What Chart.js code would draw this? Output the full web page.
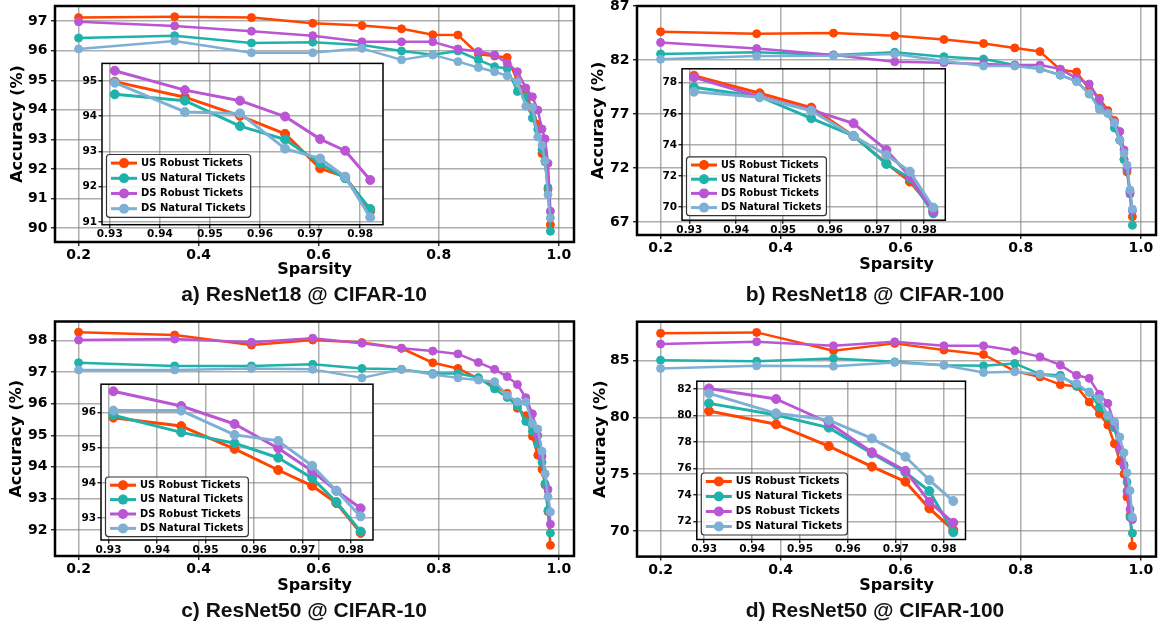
<!DOCTYPE html>
<html>
<head>
<meta charset="utf-8">
<script src="https://cdn.jsdelivr.net/npm/chart.js@4.4.0/dist/chart.umd.min.js"></script>
<style>
  html, body { margin: 0; padding: 0; background: #fff; width: 1158px; height: 627px; overflow: hidden; }
  #stage { position: relative; width: 1158px; height: 627px; }
  #stage canvas { position: absolute; left: 0; top: 0; }
</style>
</head>
<body>
<div id="stage"></div>
<script>
// Sparsity levels shared by every panel (main plot uses all, inset the 0.93-0.98 part)
const sparsity = [0.2, 0.36, 0.488, 0.59, 0.672, 0.738, 0.79, 0.832, 0.866, 0.893, 0.914,
                  0.931, 0.945, 0.956, 0.965, 0.972, 0.977, 0.982, 0.986];
const insetStart = 11, insetEnd = 18;

const seriesNames = ['US Robust Tickets', 'US Natural Tickets', 'DS Robust Tickets', 'DS Natural Tickets'];
const seriesColors = ['#FF4500', '#20B2AA', '#BA55D3', '#7EB0D5'];

// a) ResNet18 @ CIFAR-10
const r18c10UsRobust  = [97.12, 97.15, 97.12, 96.93, 96.85, 96.74, 96.54, 96.53, 95.88, 95.82, 95.77, 94.98, 94.54, 94.01, 93.50, 92.52, 92.28, 91.31, 90.11];
const r18c10UsNatural = [96.43, 96.51, 96.26, 96.29, 96.19, 95.99, 95.86, 95.99, 95.69, 95.46, 95.40, 94.62, 94.44, 93.72, 93.34, 92.66, 92.24, 91.37, 89.89];
const r18c10DsRobust  = [96.98, 96.84, 96.66, 96.51, 96.30, 96.30, 96.30, 96.06, 95.97, 95.86, 95.58, 95.29, 94.74, 94.44, 93.99, 93.35, 93.02, 92.19, 90.57];
const r18c10DsNatural = [96.06, 96.33, 95.93, 95.93, 96.08, 95.69, 95.86, 95.63, 95.43, 95.29, 95.15, 94.95, 94.12, 94.08, 93.08, 92.80, 92.28, 91.13, 90.34];

// b) ResNet18 @ CIFAR-100
const r18c100UsRobust  = [84.62, 84.43, 84.49, 84.24, 83.90, 83.53, 83.12, 82.78, 81.10, 80.90, 79.30, 78.45, 77.32, 76.40, 74.58, 72.82, 71.65, 69.83, 67.50];
const r18c100UsNatural = [82.56, 82.72, 82.47, 82.72, 82.31, 82.09, 81.53, 81.20, 80.60, 80.05, 78.85, 77.70, 77.10, 75.71, 74.58, 72.78, 71.86, 69.61, 66.70];
const r18c100DsRobust  = [83.62, 83.06, 82.47, 81.84, 81.75, 81.63, 81.53, 81.53, 81.16, 80.30, 79.78, 78.34, 77.10, 76.25, 75.39, 73.68, 71.97, 69.72, 68.05];
const r18c100DsNatural = [82.06, 82.37, 82.40, 82.56, 81.90, 81.44, 81.44, 81.16, 80.60, 80.00, 78.90, 77.42, 77.06, 76.20, 74.58, 73.36, 72.29, 69.98, 68.20];

// c) ResNet50 @ CIFAR-10
const r50c10UsRobust  = [98.27, 98.18, 97.86, 98.02, 97.94, 97.76, 97.30, 97.12, 96.80, 96.55, 96.33, 95.86, 95.62, 94.97, 94.37, 93.92, 93.43, 92.58, 91.51];
const r50c10UsNatural = [97.30, 97.20, 97.20, 97.25, 97.12, 97.09, 96.96, 96.96, 96.83, 96.47, 96.20, 95.93, 95.44, 95.13, 94.72, 94.14, 93.46, 92.62, 91.90];
const r50c10DsRobust  = [98.02, 98.05, 97.95, 98.08, 97.92, 97.76, 97.67, 97.58, 97.31, 97.09, 96.86, 96.61, 96.19, 95.68, 94.99, 94.34, 93.78, 93.28, 92.18];
const r50c10DsNatural = [97.07, 97.07, 97.12, 97.09, 96.82, 97.09, 96.93, 96.82, 96.75, 96.70, 96.27, 96.06, 96.06, 95.37, 95.20, 94.49, 93.78, 93.05, 92.57];

// d) ResNet50 @ CIFAR-100
const r50c100UsRobust  = [87.43, 87.51, 85.89, 86.54, 85.95, 85.56, 84.10, 83.58, 82.90, 82.75, 81.37, 80.34, 79.34, 77.70, 76.15, 75.02, 73.00, 71.37, 68.68];
const r50c100UsNatural = [85.06, 84.97, 85.21, 84.91, 84.62, 84.56, 84.77, 83.82, 83.73, 82.76, 82.25, 80.92, 80.04, 79.09, 77.15, 75.72, 74.31, 71.20, 69.80];
const r50c100DsRobust  = [86.48, 86.68, 86.33, 86.68, 86.33, 86.33, 85.89, 85.35, 84.62, 83.73, 83.46, 82.05, 81.25, 79.46, 77.23, 75.84, 73.51, 71.92, 71.00];
const r50c100DsNatural = [84.33, 84.56, 84.53, 84.86, 84.62, 83.97, 84.03, 83.82, 83.53, 83.00, 82.20, 81.67, 80.17, 79.66, 78.28, 76.90, 75.14, 73.56, 71.20];

// tick labels
const mainXTicks = [0.2, 0.4, 0.6, 0.8, 1.0];
const insetXTicks = [0.93, 0.94, 0.95, 0.96, 0.97, 0.98];
const r18c10YTicks = [90, 91, 92, 93, 94, 95, 96, 97];
const r18c10InsetYTicks = [91, 92, 93, 94, 95];
const r18c100YTicks = [67, 72, 77, 82, 87];
const r18c100InsetYTicks = [70, 72, 74, 76, 78];
const r50c10YTicks = [92, 93, 94, 95, 96, 97, 98];
const r50c10InsetYTicks = [93, 94, 95, 96];
const r50c100YTicks = [70, 75, 80, 85];
const r50c100InsetYTicks = [72, 74, 76, 78, 80, 82];

const W = 1200, H = 627;
const FONT = '"DejaVu Sans", "Liberation Sans", sans-serif';
const gridColor = 'rgba(120,120,120,0.6)';
Chart.defaults.color = '#000';

// layout of each panel: plot areas in page pixels
const panels = [
  { caption: 'a) ResNet18 @ CIFAR-10', series: [r18c10UsRobust, r18c10UsNatural, r18c10DsRobust, r18c10DsNatural],
    yTicks: r18c10YTicks, insetYTicks: r18c10InsetYTicks,
    main: { l: 55, t: 6, r: 574, b: 242, yTitleX: 17.5, xTitleY: 270, capX: 304, capY: 295 },
    inset: { l: 102, t: 63.4, r: 383, b: 224.7 }, legend: { size: 10, row: 15.2, pad: 7.4 } },
  { caption: 'b) ResNet18 @ CIFAR-100', series: [r18c100UsRobust, r18c100UsNatural, r18c100DsRobust, r18c100DsNatural],
    yTicks: r18c100YTicks, insetYTicks: r18c100InsetYTicks, yTop: 87,
    main: { l: 637, t: 6, r: 1156, b: 235, yTitleX: 598.5, xTitleY: 265, capX: 875, capY: 295 },
    inset: { l: 682, t: 68.8, r: 945.3, b: 220.2 }, legend: { size: 9.6, row: 14.2, pad: 4.5 } },
  { caption: 'c) ResNet50 @ CIFAR-10', series: [r50c10UsRobust, r50c10UsNatural, r50c10DsRobust, r50c10DsNatural],
    yTicks: r50c10YTicks, insetYTicks: r50c10InsetYTicks,
    main: { l: 55, t: 321.5, r: 574, b: 556, yTitleX: 16.7, xTitleY: 586, capX: 304, capY: 611.7 },
    inset: { l: 101, t: 384.2, r: 373, b: 540 }, legend: { size: 9.9, row: 14.4, pad: 3.4 } },
  { caption: 'd) ResNet50 @ CIFAR-100', series: [r50c100UsRobust, r50c100UsNatural, r50c100DsRobust, r50c100DsNatural],
    yTicks: r50c100YTicks, insetYTicks: r50c100InsetYTicks,
    main: { l: 637, t: 321.7, r: 1156, b: 556.6, yTitleX: 600.4, xTitleY: 586, capX: 875, capY: 611.7 },
    inset: { l: 696.8, t: 381.2, r: 965.5, b: 539.5 }, legend: { size: 10.2, row: 15, pad: 4.5 } }
];

// matplotlib-like 5% auto margins
function padRange(vals, frac) {
  const lo = Math.min(...vals), hi = Math.max(...vals), m = (hi - lo) * frac;
  return [lo - m, hi + m];
}

// white plot background (inset) and black frame around the plot area
const framePlugin = {
  id: 'frame',
  beforeDraw(chart, args, opts) {
    if (!opts.fill) return;
    const a = chart.chartArea, ctx = chart.ctx;
    ctx.save();
    ctx.fillStyle = opts.fill;
    ctx.fillRect(a.left, a.top, a.right - a.left, a.bottom - a.top);
    ctx.restore();
  },
  afterDatasetsDraw(chart, args, opts) {
    const a = chart.chartArea, ctx = chart.ctx;
    ctx.save();
    ctx.strokeStyle = '#000';
    ctx.lineWidth = opts.width;
    ctx.strokeRect(a.left, a.top, a.right - a.left, a.bottom - a.top);
    ctx.restore();
  }
};

// legend box in the lower left corner of the inset
const boxLegendPlugin = {
  id: 'boxLegend',
  afterDraw(chart, args, o) {
    if (!o.show) return;
    const ctx = chart.ctx, a = chart.chartArea, ds = chart.data.datasets;
    ctx.save();
    ctx.font = 'bold ' + o.size + 'px ' + FONT;
    const tw = Math.max(...ds.map(d => ctx.measureText(d.label).width));
    const w = 34.5 + tw + 5, h = ds.length * o.row + 2;
    const x0 = a.left + 4.5, y0 = a.bottom - o.pad - h;
    ctx.beginPath();
    if (ctx.roundRect) ctx.roundRect(x0, y0, w, h, 3); else ctx.rect(x0, y0, w, h);
    ctx.fillStyle = 'rgba(255,255,255,0.85)';
    ctx.fill();
    ctx.strokeStyle = '#333';
    ctx.lineWidth = 1.2;
    ctx.stroke();
    ds.forEach((d, i) => {
      const cy = y0 + 1 + o.row * (i + 0.5);
      ctx.strokeStyle = d.borderColor;
      ctx.lineWidth = 3;
      ctx.beginPath();
      ctx.moveTo(x0 + 4.5, cy);
      ctx.lineTo(x0 + 30.5, cy);
      ctx.stroke();
      ctx.fillStyle = d.borderColor;
      ctx.beginPath();
      ctx.arc(x0 + 17.5, cy, 5, 0, Math.PI * 2);
      ctx.fill();
      ctx.fillStyle = '#000';
      ctx.textAlign = 'left';
      ctx.textBaseline = 'middle';
      ctx.fillText(d.label, x0 + 34.5, cy);
    });
    ctx.restore();
  }
};

function addCanvas() {
  const c = document.createElement('canvas');
  c.width = W;
  c.height = H;
  c.style.width = W + 'px';
  c.style.height = H + 'px';
  document.getElementById('stage').appendChild(c);
  return c;
}

function makeChart(p, isInset) {
  const from = isInset ? insetStart : 0;
  const to = isInset ? insetEnd : sparsity.length;
  const xs = sparsity.slice(from, to);
  const series = p.series.map(s => s.slice(from, to));
  const [xMin, xMax] = padRange(xs, 0.05);
  let [yMin, yMax] = padRange(series.flat(), 0.05);
  if (!isInset && p.yTop) yMax = p.yTop;

  const area = isInset ? p.inset : p.main;
  const tickFont = { family: FONT, size: isInset ? 10.5 : 14, weight: 'bold' };
  const titleFont = { family: FONT, size: 16, weight: 'bold' };
  const xTickVals = isInset ? insetXTicks : mainXTicks;
  const yTickVals = isInset ? p.insetYTicks : p.yTicks;

  // axis box sizes so the plot area lands where it should
  let padL, padR, padB, yW, xH, rightW = 0, capPadTop = 0;
  if (isInset) {
    yW = 30; xH = 20;
    padL = area.l - yW;
    padR = W - area.r;
    padB = H - area.b - xH;
  } else {
    padL = area.yTitleX - 9.6;
    yW = area.l - padL;
    xH = area.xTitleY + 9.6 - area.b;
    const rightEdge = 2 * area.capX - padL;
    rightW = Math.max(0, rightEdge - area.r);
    padR = W - area.r - rightW;
    capPadTop = area.capY - 12.6 - (area.xTitleY + 9.6);
    padB = H - (area.capY + 12.6);
  }

  const datasets = series.map((vals, i) => ({
    label: seriesNames[i],
    data: vals.map((v, j) => ({ x: xs[j], y: v })),
    borderColor: seriesColors[i],
    backgroundColor: seriesColors[i],
    pointBackgroundColor: seriesColors[i],
    pointBorderColor: seriesColors[i],
    borderWidth: isInset ? 3 : 2.5,
    pointRadius: isInset ? 4.5 : 4,
    pointBorderWidth: 1,
    borderJoinStyle: 'round',
    tension: 0,
    order: series.length - i
  }));

  const scales = {
    x: {
      type: 'linear', min: xMin, max: xMax,
      afterBuildTicks: ax => { ax.ticks = xTickVals.map(v => ({ value: v })); },
      ticks: { callback: v => v.toFixed(isInset ? 2 : 1), font: tickFont, color: '#000',
               padding: isInset ? 0 : 1, maxRotation: 0, autoSkip: false },
      grid: { color: gridColor, lineWidth: 1.5, tickColor: '#000', tickLength: isInset ? 3.5 : 4, tickWidth: 1.2 },
      border: { display: false },
      title: { display: !isInset, text: 'Sparsity', font: titleFont, color: '#000', padding: 0 },
      afterFit: s => { s.height = xH; s.paddingLeft = 0; s.paddingRight = 0; }
    },
    y: {
      type: 'linear', min: yMin, max: yMax,
      afterBuildTicks: ax => { ax.ticks = yTickVals.map(v => ({ value: v })); },
      ticks: { callback: v => String(v), font: tickFont, color: '#000', padding: isInset ? 1.5 : 3.5, autoSkip: false },
      grid: { color: gridColor, lineWidth: 1.5, tickColor: '#000', tickLength: isInset ? 3.5 : 4, tickWidth: 1.2 },
      border: { display: false },
      title: { display: !isInset, text: 'Accuracy (%)', font: titleFont, color: '#000', padding: 0 },
      afterFit: s => { s.width = yW; s.paddingTop = 0; s.paddingBottom = 0; }
    }
  };
  if (!isInset) {
    // empty right-hand box, only there to centre the caption like the original
    scales.yR = {
      type: 'linear', axis: 'y', position: 'right', display: true,
      grid: { display: false, drawTicks: false }, ticks: { display: false }, border: { display: false },
      afterFit: s => { s.width = rightW; s.paddingTop = 0; s.paddingBottom = 0; }
    };
  }

  new Chart(addCanvas(), {
    type: 'line',
    data: { datasets },
    plugins: [framePlugin, boxLegendPlugin],
    options: {
      responsive: false,
      animation: false,
      devicePixelRatio: 1,
      events: [],
      layout: { padding: { left: padL, top: area.t, right: padR, bottom: padB } },
      scales,
      plugins: {
        legend: { display: false },
        tooltip: { enabled: false },
        title: {
          display: !isInset, text: p.caption, position: 'bottom',
          font: { family: '"Liberation Sans", Arial, sans-serif', size: 21, weight: 'bold' },
          color: '#111', padding: { top: capPadTop, bottom: 0 }
        },
        frame: { width: isInset ? 1.5 : 2.5, fill: isInset ? '#fff' : null },
        boxLegend: { show: isInset, size: p.legend.size, row: p.legend.row, pad: p.legend.pad }
      }
    }
  });
}

panels.forEach(p => {
  makeChart(p, false);
  makeChart(p, true);
});
</script>
</body>
</html>
